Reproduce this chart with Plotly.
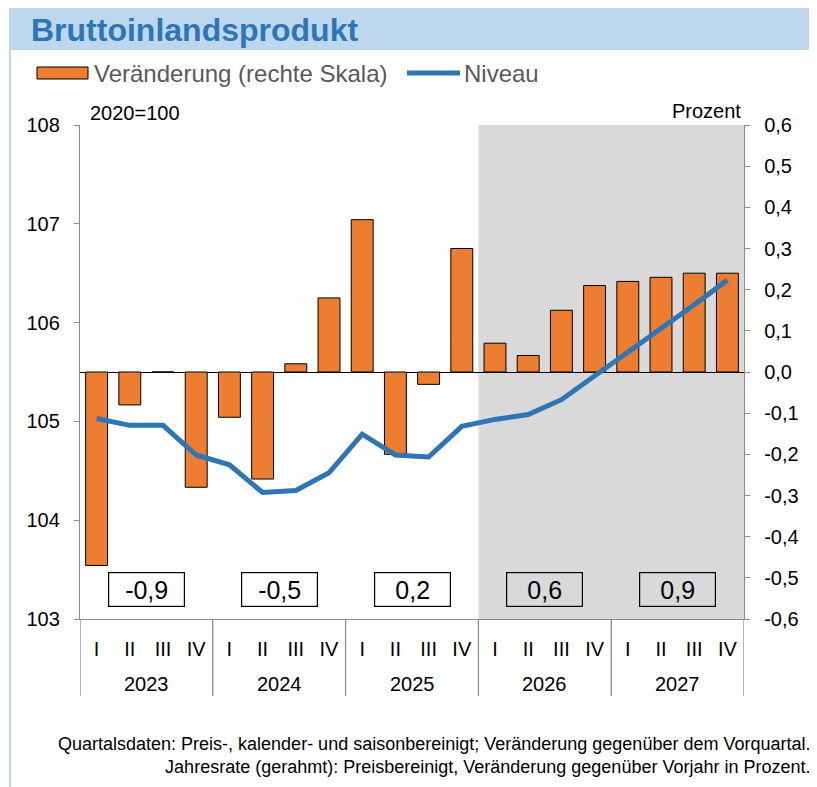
import plotly.graph_objects as go

# ---------------- data ----------------
quarters = ["I", "II", "III", "IV", "I", "II", "III", "IV", "I", "II", "III", "IV",
            "I", "II", "III", "IV", "I", "II", "III", "IV"]
years = ["2023", "2024", "2025", "2026", "2027"]
veraenderung = [-0.47, -0.08, 0.00, -0.28,
                -0.11, -0.26, 0.02, 0.18,
                0.37, -0.20, -0.03, 0.30,
                0.07, 0.04, 0.15, 0.21,
                0.22, 0.23, 0.24, 0.24]
niveau = [105.03, 104.96, 104.96, 104.66,
          104.56, 104.28, 104.30, 104.48,
          104.87, 104.66, 104.64, 104.95,
          105.02, 105.07, 105.22, 105.46,
          105.69, 105.93, 106.18, 106.43]
jahresrate = ["-0,9", "-0,5", "0,2", "0,6", "0,9"]
left_tickvals = [103, 104, 105, 106, 107, 108]
right_tickvals = [-0.6, -0.5, -0.4, -0.3, -0.2, -0.1, 0.0, 0.1, 0.2, 0.3, 0.4, 0.5, 0.6]
right_ticktext = ["-0,6", "-0,5", "-0,4", "-0,3", "-0,2", "-0,1", "0,0",
                  "0,1", "0,2", "0,3", "0,4", "0,5", "0,6"]

# ---------------- layout geometry (page pixels; page body has an 8px margin) ----------------
OFF = 8
W, H = 817 - OFF, 787 - OFF
L, R, T, B = 80 - OFF, 744 - OFF, 125 - OFF, 619 - OFF
FONT = "Liberation Sans, Arial, sans-serif"
ORANGE = "#ED7D31"
BLUE = "#2E75B6"
AXIS = "#8C8C8C"


def px(X):
    return (X - OFF - L) / (R - L)


def py(Y):
    return (B - (Y - OFF)) / (B - T)


n = len(quarters)
x = list(range(n))
per_year = n // len(years)
year_centers = [i * per_year + (per_year - 1) / 2 for i in range(len(years))]
forecast_start = 3 * per_year - 0.5

fig = go.Figure()
fig.add_trace(go.Bar(
    x=x, y=veraenderung, yaxis="y", width=0.66,
    marker=dict(color=ORANGE, line=dict(color="#000000", width=1)),
    showlegend=False, name="Veränderung (rechte Skala)"))
fig.add_trace(go.Scatter(
    x=x, y=niveau, yaxis="y2", mode="lines",
    line=dict(color=BLUE, width=5),
    showlegend=False, name="Niveau"))

shapes = []
# forecast shading
shapes.append(dict(type="rect", xref="x", yref="paper", x0=forecast_start, x1=n - 0.5,
                   y0=0, y1=1, fillcolor="#D9D9D9", line=dict(width=0), layer="below"))
# year separators below the axis
for i in range(len(years) + 1):
    xv = i * per_year - 0.5
    shapes.append(dict(type="line", xref="x", yref="paper", x0=xv, x1=xv,
                       y0=0, y1=py(696), line=dict(color=AXIS, width=1.3)))
# title band
shapes.append(dict(type="rect", xref="paper", yref="paper", x0=px(10), x1=px(818),
                   y0=py(5), y1=py(50), fillcolor="#BDD7EE", line=dict(width=0)))
# left frame line
shapes.append(dict(type="line", xref="paper", yref="paper", x0=px(10), x1=px(10),
                   y0=py(5), y1=py(787), line=dict(color="#BDD7EE", width=2)))
# legend symbols
shapes.append(dict(type="rect", xref="paper", yref="paper", x0=px(37), x1=px(88),
                   y0=py(79), y1=py(67), fillcolor=ORANGE, line=dict(color="#000000", width=1)))
shapes.append(dict(type="line", xref="paper", yref="paper", x0=px(407), x1=px(460),
                   y0=py(73), y1=py(73), line=dict(color=BLUE, width=5)))

ann = []
ann.append(dict(text="<b>Bruttoinlandsprodukt</b>", xref="paper", yref="paper",
                x=px(29), y=py(30), xanchor="left", yanchor="middle", showarrow=False,
                font=dict(family=FONT, size=32, color=BLUE)))
ann.append(dict(text="Veränderung (rechte Skala)", xref="paper", yref="paper",
                x=px(92), y=py(74), xanchor="left", yanchor="middle", showarrow=False,
                font=dict(family=FONT, size=24, color="#595959")))
ann.append(dict(text="Niveau", xref="paper", yref="paper",
                x=px(462), y=py(74), xanchor="left", yanchor="middle", showarrow=False,
                font=dict(family=FONT, size=24, color="#595959")))
ann.append(dict(text="2020=100", xref="paper", yref="paper",
                x=px(88), y=py(113), xanchor="left", yanchor="middle", showarrow=False,
                font=dict(family=FONT, size=20, color="#000000")))
ann.append(dict(text="Prozent", xref="paper", yref="paper",
                x=px(743), y=py(111), xanchor="right", yanchor="middle", showarrow=False,
                font=dict(family=FONT, size=20, color="#000000")))
for yc, yr in zip(year_centers, years):
    ann.append(dict(text=yr, xref="x", yref="paper", x=yc, y=py(684),
                    xanchor="center", yanchor="middle", showarrow=False,
                    font=dict(family=FONT, size=20, color="#000000")))
for yc, rate in zip(year_centers, jahresrate):
    ann.append(dict(text=rate, xref="x", yref="paper", x=yc, y=py(589.5),
                    xanchor="center", yanchor="middle", showarrow=False,
                    width=73, height=31, borderpad=1, bordercolor="#000000", borderwidth=1.2,
                    font=dict(family=FONT, size=25, color="#000000")))
ann.append(dict(text="Quartalsdaten: Preis-, kalender- und saisonbereinigt; Veränderung gegenüber dem Vorquartal.<br>"
                     "Jahresrate (gerahmt): Preisbereinigt, Veränderung gegenüber Vorjahr in Prozent.",
                xref="paper", yref="paper", x=px(812), y=py(755),
                xanchor="right", yanchor="middle", align="right", showarrow=False,
                font=dict(family=FONT, size=18, color="#000000")))

fig.update_layout(
    width=W, height=H,
    margin=dict(l=L, r=W - R, t=T, b=H - B, autoexpand=False),
    paper_bgcolor="#FFFFFF", plot_bgcolor="#FFFFFF",
    font=dict(family=FONT, size=20, color="#000000"),
    bargap=0.34,
    showlegend=False,
    shapes=shapes, annotations=ann,
    xaxis=dict(range=[-0.5, n - 0.5], tickvals=x, ticktext=quarters, ticks="",
               showline=True, linecolor=AXIS, linewidth=1.3, showgrid=False, zeroline=False,
               tickfont=dict(family=FONT, size=20), ticklabelstandoff=12, fixedrange=True),
    yaxis=dict(side="right", range=[-0.6, 0.6], tickvals=right_tickvals, ticktext=right_ticktext,
               ticks="outside", ticklen=5, tickcolor=AXIS, tickwidth=1.3,
               showline=True, linecolor=AXIS, linewidth=1.3, showgrid=False,
               zeroline=True, zerolinecolor="#000000", zerolinewidth=1,
               tickfont=dict(family=FONT, size=20), ticklabelstandoff=10, fixedrange=True),
    yaxis2=dict(side="left", overlaying="y", range=[103, 108], tickvals=left_tickvals,
                ticks="outside", ticklen=5, tickcolor=AXIS, tickwidth=1.3,
                showline=True, linecolor=AXIS, linewidth=1.3, showgrid=False, zeroline=False,
                tickfont=dict(family=FONT, size=20), ticklabelstandoff=10, fixedrange=True),
)

fig.write_html("out.html")
